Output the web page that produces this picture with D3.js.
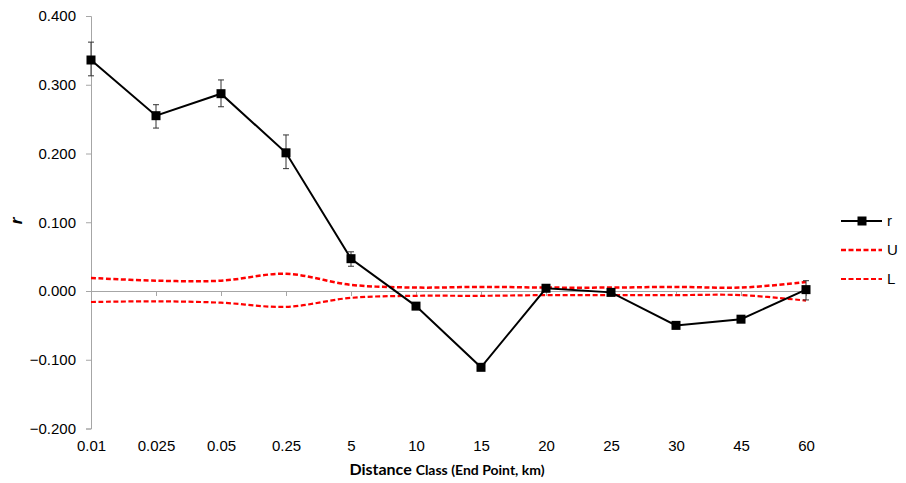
<!DOCTYPE html>
<html>
<head>
<meta charset="utf-8">
<script src="https://cdn.jsdelivr.net/npm/d3@7"></script>
<style>
  body { margin: 0; background: #fff; }
  svg { display: block; }
</style>
</head>
<body>
<div id="plot"></div>
<script>
// Chart size
const width = 906, height = 483;

// Data
const classes = ["0.01", "0.025", "0.05", "0.25", "5", "10", "15", "20", "25", "30", "45", "60"];
const rValues = [0.336, 0.255, 0.287, 0.201, 0.047, -0.022, -0.111, 0.004, -0.002, -0.050, -0.041, 0.002];
const rHigh   = [0.362, 0.271, 0.307, 0.227, 0.057, -0.020, -0.109, 0.006, 0.000, -0.048, -0.039, 0.015];
const rLow    = [0.313, 0.237, 0.268, 0.178, 0.036, -0.024, -0.113, 0.002, -0.004, -0.052, -0.043, -0.013];
const upper   = [0.019, 0.015, 0.015, 0.025, 0.009, 0.005, 0.006, 0.005, 0.005, 0.006, 0.005, 0.013];
const lower   = [-0.016, -0.015, -0.017, -0.023, -0.010, -0.007, -0.007, -0.006, -0.006, -0.006, -0.006, -0.014];
const yTicks  = [-0.2, -0.1, 0, 0.1, 0.2, 0.3, 0.4];

const svg = d3.select("#plot")
    .append("svg")
    .attr("width", width)
    .attr("height", height);

// Scales
const x = d3.scalePoint()
    .domain(classes)
    .range([91, 806]);

const y = d3.scaleLinear()
    .domain([-0.2, 0.4])
    .range([428.5, 16]);

const axisColor = "#a6a6a6";
const tickFont = "'Liberation Sans', Arial, sans-serif";

// Y axis
const yAxis = svg.append("g")
    .attr("transform", "translate(91,0)")
    .call(d3.axisLeft(y).tickValues(yTicks).tickSize(5).tickPadding(10).tickFormat(d3.format(".3f")));
yAxis.select(".domain").attr("stroke", axisColor);
yAxis.selectAll(".tick line").attr("stroke", axisColor);
yAxis.selectAll("text")
    .style("font-family", tickFont)
    .style("font-size", "15px")
    .attr("fill", "#000");

// Horizontal axis line at zero with tick marks
const zeroAxis = svg.append("g")
    .attr("transform", `translate(0,${y(0)})`)
    .call(d3.axisBottom(x).tickSize(5).tickSizeOuter(0).tickFormat(""));
zeroAxis.select(".domain").attr("stroke", axisColor);
zeroAxis.selectAll(".tick line").attr("stroke", axisColor);

// Category labels at the bottom
const xLabels = svg.append("g")
    .attr("transform", `translate(0,${y(-0.2)})`)
    .call(d3.axisBottom(x).tickSize(0).tickPadding(12));
xLabels.select(".domain").remove();
xLabels.selectAll("text")
    .style("font-family", tickFont)
    .style("font-size", "15px")
    .attr("fill", "#000");

// U and L lines (smoothed, dashed)
const smooth = d3.line()
    .x((d, i) => x(classes[i]))
    .y(d => y(d))
    .curve(d3.curveCatmullRom.alpha(0.5));

svg.append("path")
    .datum(upper)
    .attr("d", smooth)
    .attr("fill", "none")
    .attr("stroke", "#ff0000")
    .attr("stroke-width", 2.5)
    .attr("stroke-dasharray", "5,2.5");

svg.append("path")
    .datum(lower)
    .attr("d", smooth)
    .attr("fill", "none")
    .attr("stroke", "#ff0000")
    .attr("stroke-width", 2.2)
    .attr("stroke-dasharray", "5,2.5");

// Error bars for r
const errs = classes.map((c, i) => ({ c: c, hi: rHigh[i], lo: rLow[i] }));
const eb = svg.append("g").attr("stroke", "#333").attr("stroke-width", 1);
eb.selectAll("line.v")
    .data(errs)
    .enter()
    .append("line")
    .attr("class", "v")
    .attr("x1", d => x(d.c)).attr("x2", d => x(d.c))
    .attr("y1", d => y(d.hi)).attr("y2", d => y(d.lo));
eb.selectAll("line.t")
    .data(errs)
    .enter()
    .append("line")
    .attr("class", "t")
    .attr("x1", d => x(d.c) - 3).attr("x2", d => x(d.c) + 3)
    .attr("y1", d => y(d.hi)).attr("y2", d => y(d.hi));
eb.selectAll("line.b")
    .data(errs)
    .enter()
    .append("line")
    .attr("class", "b")
    .attr("x1", d => x(d.c) - 3).attr("x2", d => x(d.c) + 3)
    .attr("y1", d => y(d.lo)).attr("y2", d => y(d.lo));

// r line
svg.append("path")
    .datum(rValues)
    .attr("d", d3.line().x((d, i) => x(classes[i])).y(d => y(d)))
    .attr("fill", "none")
    .attr("stroke", "#000")
    .attr("stroke-width", 2);

// r markers
const ms = 9;
svg.selectAll("rect.marker")
    .data(rValues)
    .enter()
    .append("rect")
    .attr("class", "marker")
    .attr("x", (d, i) => x(classes[i]) - ms / 2)
    .attr("y", d => y(d) - ms / 2)
    .attr("width", ms)
    .attr("height", ms)
    .attr("fill", "#000");

// Legend
const legend = svg.append("g").attr("transform", "translate(841,0)");
const legendItems = [
    { name: "r", y: 221 },
    { name: "U", y: 250 },
    { name: "L", y: 279 }
];
legend.selectAll("line")
    .data(legendItems)
    .enter()
    .append("line")
    .attr("x1", 0).attr("x2", 41)
    .attr("y1", d => d.y).attr("y2", d => d.y)
    .attr("stroke", d => d.name === "r" ? "#000" : "#ff0000")
    .attr("stroke-width", d => d.name === "r" ? 2 : (d.name === "U" ? 2.5 : 2.2))
    .attr("stroke-dasharray", d => d.name === "r" ? null : "5,2.5");
legend.append("rect")
    .attr("x", 21 - ms / 2).attr("y", 221 - ms / 2)
    .attr("width", ms).attr("height", ms)
    .attr("fill", "#000");
legend.selectAll("text")
    .data(legendItems)
    .enter()
    .append("text")
    .attr("x", 46)
    .attr("y", d => d.y)
    .attr("dy", "0.35em")
    .style("font-family", tickFont)
    .style("font-size", "15px")
    .text(d => d.name);

// Axis titles
svg.append("text")
    .attr("transform", "translate(22,221) rotate(-90)")
    .attr("text-anchor", "middle")
    .style("font-family", tickFont)
    .style("font-size", "17px")
    .style("font-weight", "bold")
    .style("font-style", "italic")
    .text("r");

const title = svg.append("text")
    .attr("x", 447)
    .attr("y", 475)
    .attr("text-anchor", "middle")
    .style("font-family", "Lato, 'Open Sans', sans-serif")
    .style("font-weight", "bold");
title.append("tspan").style("font-size", "16px").text("Distance ");
title.append("tspan").style("font-size", "14px").text("Class (End Point, km)");
</script>
</body>
</html>
